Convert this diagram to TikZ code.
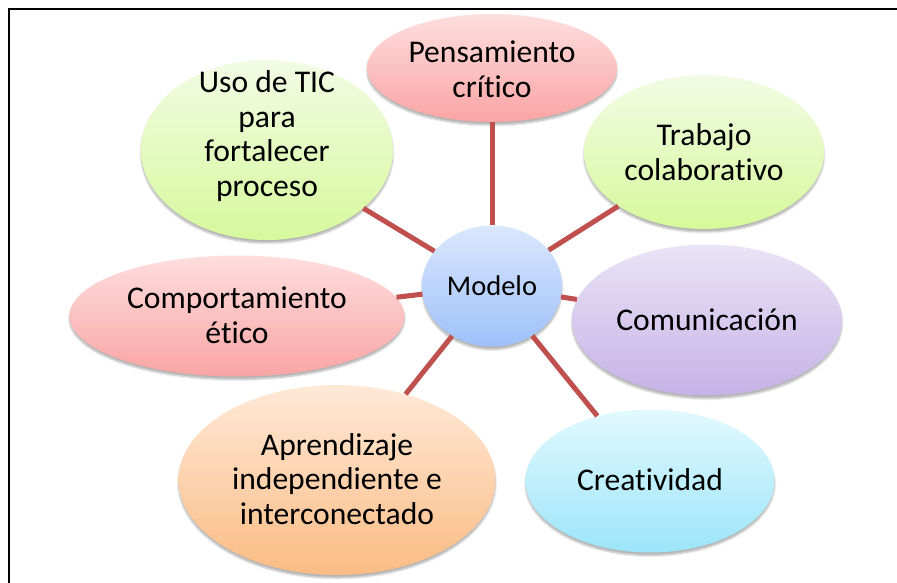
\documentclass[tikz,border=0pt]{standalone}
\usepackage{fontspec}
\setmainfont{Carlito}[Ligatures={NoCommon}]
\usetikzlibrary{shapes.geometric,shadows,shadows.blur}
\definecolor{pinkT}{RGB}{254,222,222}
\definecolor{pinkB}{RGB}{250,164,164}
\definecolor{greenT}{RGB}{242,251,228}
\definecolor{greenB}{RGB}{214,249,156}
\definecolor{blueT}{RGB}{218,232,253}
\definecolor{blueB}{RGB}{158,193,250}
\definecolor{purpT}{RGB}{234,228,246}
\definecolor{purpB}{RGB}{198,178,230}
\definecolor{cyanT}{RGB}{226,249,254}
\definecolor{cyanB}{RGB}{156,229,249}
\definecolor{oranT}{RGB}{254,233,216}
\definecolor{oranB}{RGB}{251,188,132}
\definecolor{linkred}{RGB}{192,80,77}
\begin{document}
\begin{tikzpicture}[x=1pt,y=-1pt,
  bub/.style={ellipse, draw=none, inner sep=0pt,
    blur shadow={shadow xshift=0pt, shadow yshift=-3pt, shadow blur steps=6, shadow opacity=30}},
  lbl/.style={align=center, inner sep=0pt, font=\fontsize{31.6}{34.8}\selectfont},
  link/.style={draw=linkred, line width=5pt}]
\useasboundingbox (0,0) rectangle (897,583);
\draw[line width=2pt] (9,583) -- (9,9) -- (897,9);
% bubbles
\node[bub, minimum width=250pt, minimum height=108pt, top color=pinkT, bottom color=pinkB] (pc) at (492,68) {};
\node[bub, minimum width=252pt, minimum height=180pt, top color=greenT, bottom color=greenB] (uso) at (267,150) {};
\node[bub, minimum width=240pt, minimum height=154pt, top color=greenT, bottom color=greenB] (tc) at (704,152) {};
\node[bub, minimum width=270pt, minimum height=151pt, top color=purpT, bottom color=purpB] (com) at (707,320) {};
\node[bub, minimum width=249pt, minimum height=143pt, top color=cyanT, bottom color=cyanB] (cre) at (650,481) {};
\node[bub, minimum width=335pt, minimum height=121pt, top color=pinkT, bottom color=pinkB] (ce) at (237,316) {};
\node[bub, minimum width=317pt, minimum height=190pt, top color=oranT, bottom color=oranB] (ap) at (337,480) {};
\node[bub, minimum width=140pt, minimum height=121pt, top color=blueT, bottom color=blueB] (mod) at (492,286) {};
% connectors
\draw[link] (mod) -- (pc);
\draw[link] (mod) -- (uso);
\draw[link] (mod) -- (tc);
\draw[link] (mod) -- (com);
\draw[link] (mod) -- (cre);
\draw[link] (mod) -- (ce);
\draw[link] (mod) -- (ap);
% labels
\node[lbl] (pcl) at (492,69) {Pensamiento\\crítico};
\node[lbl] (usol) at (267,136) {Uso de TIC\\para\\fortalecer\\proceso};
\node[lbl] (tcl) at (704,152) {Trabajo\\colaborativo};
\node[lbl] (coml) at (707,320) {Comunicación};
\node[lbl] (crel) at (650,480) {Creatividad};
\node[lbl] (cel) at (237,315) {Comportamiento\\ético};
\node[lbl] (apl) at (337,479) {Aprendizaje\\independiente e\\interconectado};
\node[lbl, font=\fontsize{28.5}{31}\selectfont] (modl) at (492,286) {Modelo};
\end{tikzpicture}
\end{document}
